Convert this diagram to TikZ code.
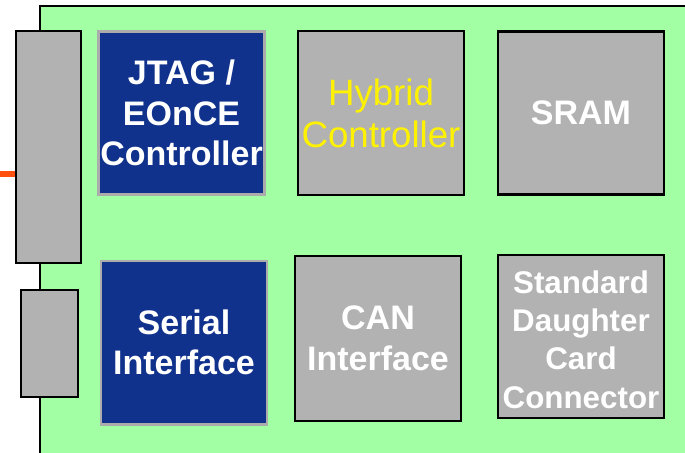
\documentclass[tikz,border=0pt]{standalone}
\usepackage{fontspec}
\setmainfont{Liberation Sans}
\definecolor{boardgreen}{RGB}{163,255,163}
\definecolor{chipnavy}{RGB}{16,50,140}
\definecolor{chipgray}{RGB}{178,178,178}
\definecolor{wireorange}{RGB}{255,80,16}
\begin{document}
\begin{tikzpicture}[x=0.75pt, y=-0.75pt,
    block/.style={draw=black, line width=2pt, fill=chipgray, align=center, minimum width=124.5pt, minimum height=122.5pt, inner sep=0pt, text=white, font=\fontsize{25.5}{30.5}\selectfont\bfseries},
    dsp/.style={block, draw=gray!65, fill=chipnavy},
    header/.style={draw=black, line width=2.2pt, fill=chipgray, inner sep=0pt},
    wire/.style={wireorange, line width=4pt}
]
\useasboundingbox (0,0) rectangle (685,453);
% board, runs off the right and bottom edges
\fill[boardgreen] (40,6) rectangle (690,460);
\draw[line width=2.2pt] (40,460) -- (40,6) -- (690,6);

% edge connectors
\node[header, minimum width=48.75pt, minimum height=174pt] at (48.5,147) (hdrA) {};
\node[header, minimum width=42.75pt, minimum height=80.25pt] at (49.5,343.5) (hdrB) {};

% top row
\node[dsp] at (181.5,113) (jtag) {JTAG /\\EOnCE\\Controller};
\node[block, text=yellow, font=\fontsize{27.5}{31.5}\selectfont, minimum height=123pt] at (381,113) (hybrid) {Hybrid\\Controller};
\node[block] at (581,113) (sram) {SRAM};

% bottom row
\node[dsp] at (184,342.5) (serial) {Serial\\Interface};
\node[block, minimum height=123.75pt] at (378,338.5) (can) {CAN\\Interface};
\node[block, minimum height=122.25pt] at (581,336.5) (sdc) {};
\node[align=center, text=white, font=\fontsize{23.5}{28.7}\selectfont\bfseries, inner sep=0pt] at ([yshift=-2.25pt]sdc.center) (sdctext) {Standard\\Daughter\\Card\\Connector};

% probe cable
\coordinate (probe) at (0,174);
\draw[wire] (probe) -- (probe -| hdrA.west);
\end{tikzpicture}
\end{document}
